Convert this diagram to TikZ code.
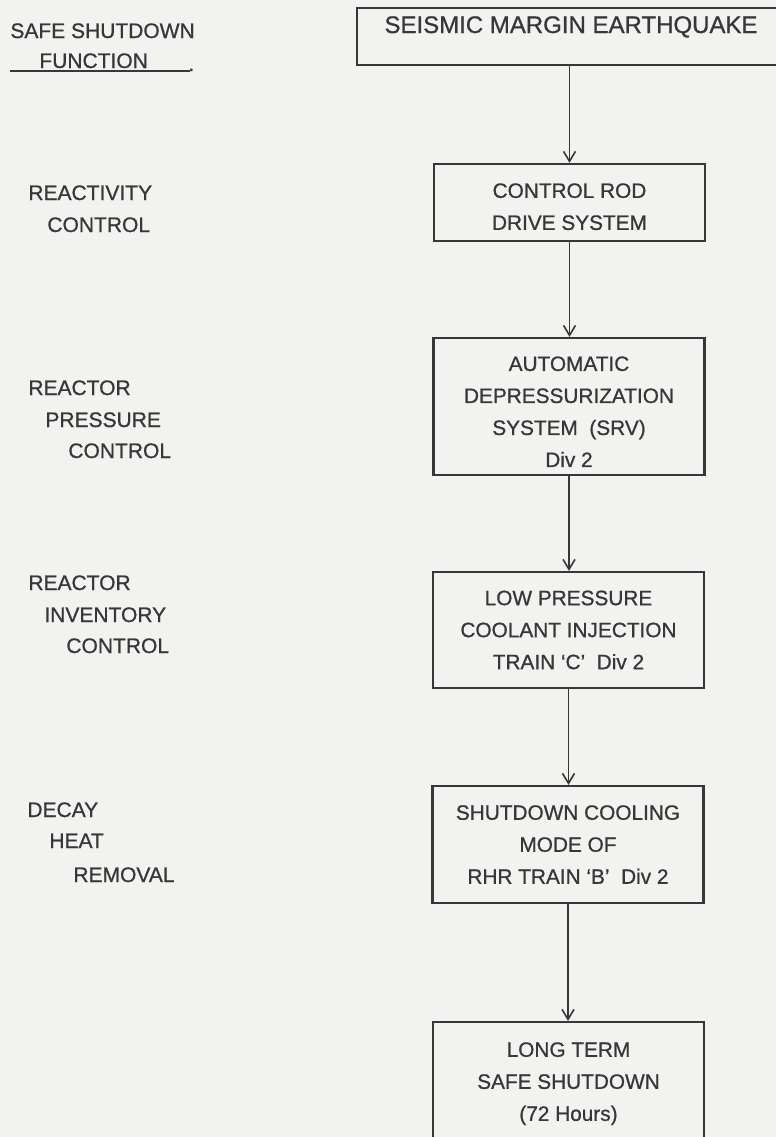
\documentclass[tikz,border=0pt]{standalone}
\usepackage{fontspec}
\setmainfont{Liberation Sans}
\newfontfamily\scanfont{Liberation Sans}[Ligatures=TeX,FakeBold=0.8]
\usetikzlibrary{arrows.meta}
\definecolor{bg}{RGB}{242,242,240}
\definecolor{ink}{RGB}{55,55,55}
\newcommand\topgap[1]{\rule{0pt}{#1}}
\begin{document}
\begin{tikzpicture}[x=0.5pt,y=-0.5pt,
  sysbox/.style={font=\scanfont\fontsize{10.4}{16}\selectfont, align=center, draw=ink,
    line width=1.1pt, text=ink, inner sep=0pt, minimum width=135.5pt},
  lbl/.style={font=\scanfont\fontsize{10.5}{16}\selectfont, text=ink, anchor=base west, inner sep=0pt},
  flow/.style={draw=ink, line width=0.8pt, -{Straight Barb[length=5pt,width=6pt]}}]
\fill[bg] (0,0) rectangle (776,1137);
\useasboundingbox (0,0) rectangle (776,1137);
\begin{scope}
\clip (0,0) rectangle (776,1137);
% boxes
\node[sysbox, minimum width=214pt, minimum height=28.5pt, font=\scanfont\fontsize{12}{14}\selectfont,
  text height=8.6pt, text depth=12.1pt] (sme) at (571,36.5) {SEISMIC MARGIN EARTHQUAKE};
\node[sysbox, minimum height=38.5pt] (crd) at (569.5,202.5) {\topgap{11.45pt}CONTROL ROD\\DRIVE SYSTEM};
\node[sysbox, minimum height=68.5pt] (ads) at (569,406.5) {\topgap{12.45pt}AUTOMATIC\\DEPRESSURIZATION\\SYSTEM\ \ (SRV)\\Div 2};
\node[sysbox, minimum height=58pt] (lpci) at (568.5,630) {LOW PRESSURE\\COOLANT INJECTION\\TRAIN ‘C’\ \ Div 2};
\node[sysbox, minimum height=58.5pt] (sdc) at (568,844.5) {SHUTDOWN COOLING\\MODE OF\\RHR TRAIN ‘B’\ \ Div 2};
\node[sysbox, minimum height=58pt] (lts) at (568.5,1080) {\topgap{10.95pt}LONG TERM\\SAFE SHUTDOWN\\(72 Hours)};
% connectors
\draw[flow] (crd.north |- sme.south) -- (crd.north);
\draw[flow] (crd.south) -- (crd.south |- ads.north);
\draw[flow] (ads.south) -- (ads.south |- lpci.north);
\draw[flow] (lpci.south) -- (lpci.south |- sdc.north);
\draw[flow] (sdc.south) -- (sdc.south |- lts.north);
\end{scope}
% left column labels
\node[lbl] (h1) at (10,38) {SAFE SHUTDOWN};
\node[lbl] (h2) at (39,68) {FUNCTION};
\coordinate (ulA) at (10,71);
\coordinate (ulB) at (190,71);
\draw[ink, line width=0.6pt] (ulA) -- (ulB);
\node[lbl] (h3) at (188,71) {.};
\node[lbl] (r1) at (28,200) {REACTIVITY};
\node[lbl] (r2) at (47,232) {CONTROL};
\node[lbl] (p1) at (28,395) {REACTOR};
\node[lbl] (p2) at (45,427) {PRESSURE};
\node[lbl] (p3) at (68,458) {CONTROL};
\node[lbl] (i1) at (28,590) {REACTOR};
\node[lbl] (i2) at (44,622) {INVENTORY};
\node[lbl] (i3) at (66,653) {CONTROL};
\node[lbl] (d1) at (27,817) {DECAY};
\node[lbl] (d2) at (49,848) {HEAT};
\node[lbl] (d3) at (73,882) {REMOVAL};
\end{tikzpicture}
\end{document}
